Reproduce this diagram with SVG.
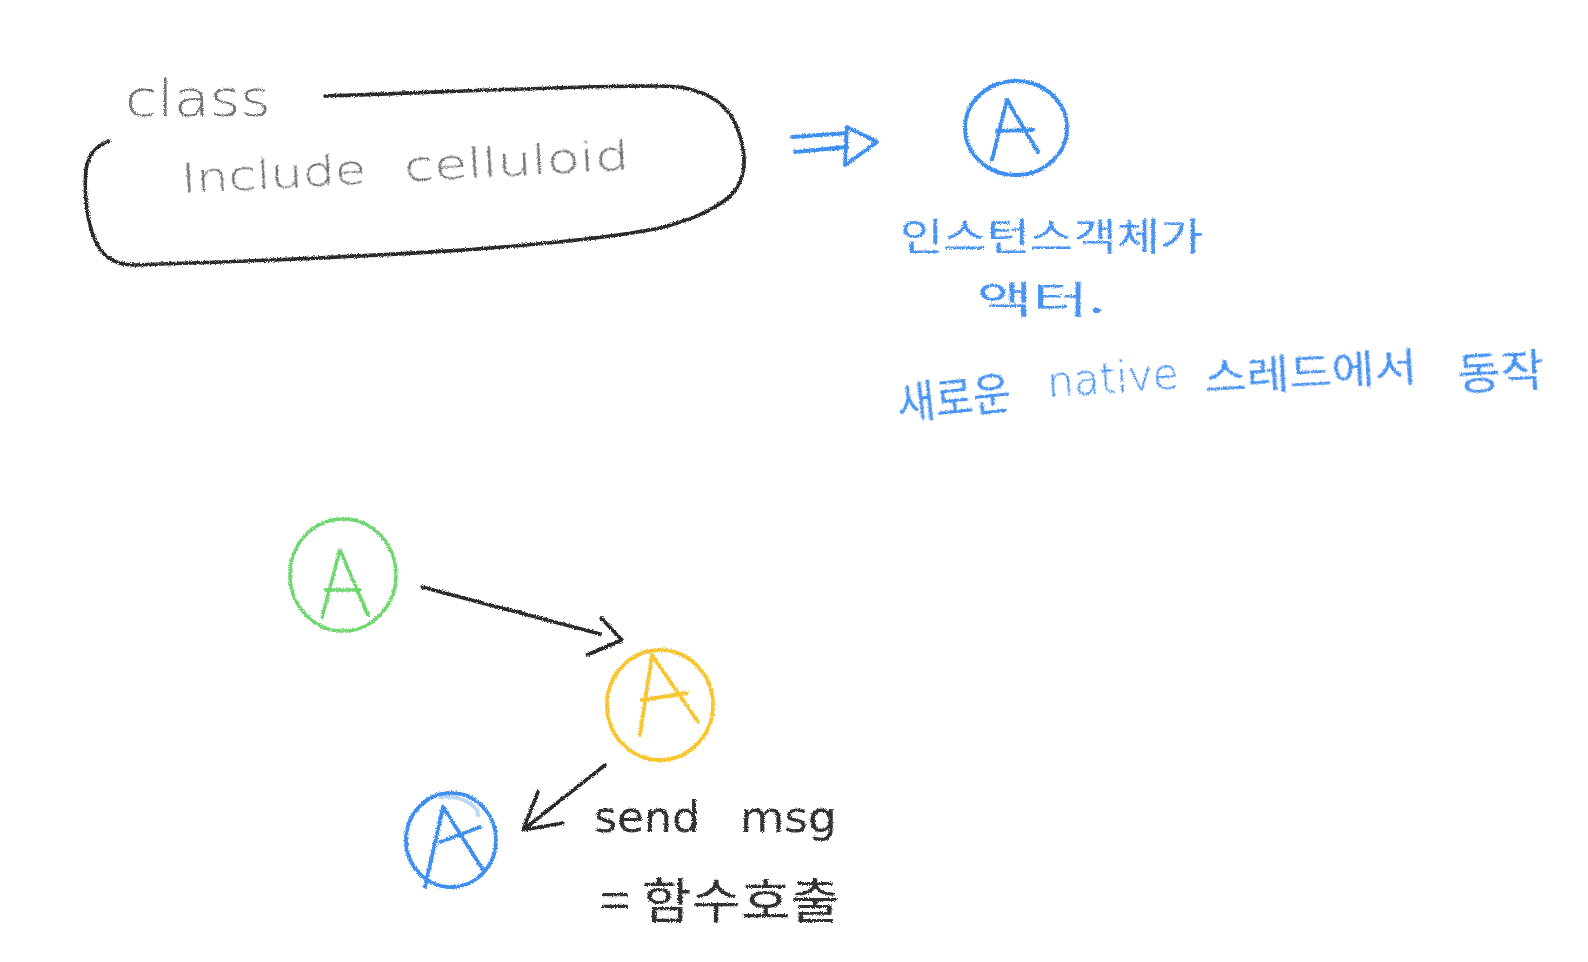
<svg xmlns="http://www.w3.org/2000/svg" width="1588" height="962" viewBox="0 0 1588 962">
<defs>
<filter id="crayon" x="-20%" y="-20%" width="140%" height="140%">
<feTurbulence type="fractalNoise" baseFrequency="0.85" numOctaves="2" seed="4" result="noise"/>
<feDisplacementMap in="SourceGraphic" in2="noise" scale="3.5" xChannelSelector="R" yChannelSelector="G"/>
</filter>
<style>
.ln{fill:none;stroke-linecap:round;stroke-linejoin:round;filter:url(#crayon)}
.blk{stroke:#2a2a2a;stroke-width:3.6}
.blu{stroke:#3d8ef0;stroke-width:3.8}
.grn{stroke:#6dd66d;stroke-width:3.4}
.yel{stroke:#f9c52e;stroke-width:3.8}
.hand{font-family:"DejaVu Sans","Noto Sans CJK KR",sans-serif;filter:url(#crayon)}
.kr{font-family:"Noto Sans CJK KR",sans-serif;font-weight:400;filter:url(#crayon)}
.gray{fill:#707070}
.dark{fill:#333333}
.bt{fill:#4a93f2}
</style>
</defs>
<rect width="1588" height="962" fill="#ffffff"/>

<g id="class-node">
<path class="ln blk" d="M325,96 C450,92 560,86 660,86 C700,86 727,100 738,130 C748,158 746,182 728,198 C710,212 690,220 660,228 C560,248 350,258 135,265 C112,265 100,255 93,235 C86,215 84,190 86,170 C88,155 95,147 109,141"/>
<text class="hand gray" x="125" y="116" font-size="50" textLength="146" lengthAdjust="spacingAndGlyphs" font-weight="300">class</text>
<text class="hand gray" x="182" y="193" font-size="40" textLength="185" lengthAdjust="spacingAndGlyphs" transform="rotate(-3 182 193)" font-weight="300">Include</text>
<text class="hand gray" x="405" y="181" font-size="40" textLength="225" lengthAdjust="spacingAndGlyphs" transform="rotate(-3 405 181)" font-weight="300">celluloid</text>
</g>

<g id="actor-top">
<ellipse class="ln blu" cx="1016" cy="128" rx="51" ry="47"/>
<path class="ln blu" d="M992,160 L1007,100 L1038,152 M997,131 L1033,130"/>
</g>

<g id="actor-notes">
<text class="kr bt" x="900" y="250" font-size="38" textLength="303" lengthAdjust="spacingAndGlyphs">인스턴스객체가</text>
<text class="kr bt" x="977" y="313" font-size="38" textLength="128" lengthAdjust="spacingAndGlyphs">액터.</text>
<text class="kr bt" x="899" y="420" font-size="44" textLength="114" lengthAdjust="spacingAndGlyphs" transform="rotate(-6 899 420)">새로운</text>
<text class="hand bt" x="1048" y="397" font-size="42" textLength="132" lengthAdjust="spacingAndGlyphs" transform="rotate(-4 1048 397)" font-weight="300">native</text>
<text class="kr bt" x="1205" y="392" font-size="40" textLength="213" lengthAdjust="spacingAndGlyphs" transform="rotate(-3 1205 392)">스레드에서</text>
<text class="kr bt" x="1458" y="390" font-size="44" textLength="87" lengthAdjust="spacingAndGlyphs" transform="rotate(-3 1458 390)">동작</text>
</g>

<g id="actor-green">
<ellipse class="ln grn" cx="343" cy="575" rx="53" ry="56"/>
<path class="ln grn" d="M322,617 L340,550 L368,615 M325,590 L360,590"/>
</g>

<g id="actor-yellow">
<ellipse class="ln yel" cx="660" cy="705" rx="53" ry="55"/>
<path class="ln yel" d="M640,735 L652,655 L698,722 M642,700 L687,693"/>
</g>

<g id="actor-blue">
<ellipse class="ln blu" cx="451" cy="840" rx="45" ry="47"/>
<path class="ln blu" d="M425,887 L443,807 L483,870 M440,842 L480,827"/>
<path class="ln blu" d="M440,797 C460,795 478,805 478,815" opacity="0.35"/>
</g>

<g id="message">
<text class="hand dark" x="594" y="832" font-size="42" textLength="106" lengthAdjust="spacingAndGlyphs">send</text>
<text class="hand dark" x="740" y="832" font-size="42" textLength="97" lengthAdjust="spacingAndGlyphs">msg</text>
<text class="kr dark" x="600" y="918" font-size="48" textLength="240" lengthAdjust="spacingAndGlyphs">= 함수호출</text>
</g>

<g id="connectors">
<path class="ln blu" d="M792,137 L847,133 M795,152 L847,147 M847,127 L877,142 L845,165 Z"/>
<path class="ln blk" d="M422,587 L600,634 M601,618 L622,640 L587,655"/>
<path class="ln blk" d="M605,765 L523,830 M538,792 L523,830 L563,823"/>
</g>
</svg>
